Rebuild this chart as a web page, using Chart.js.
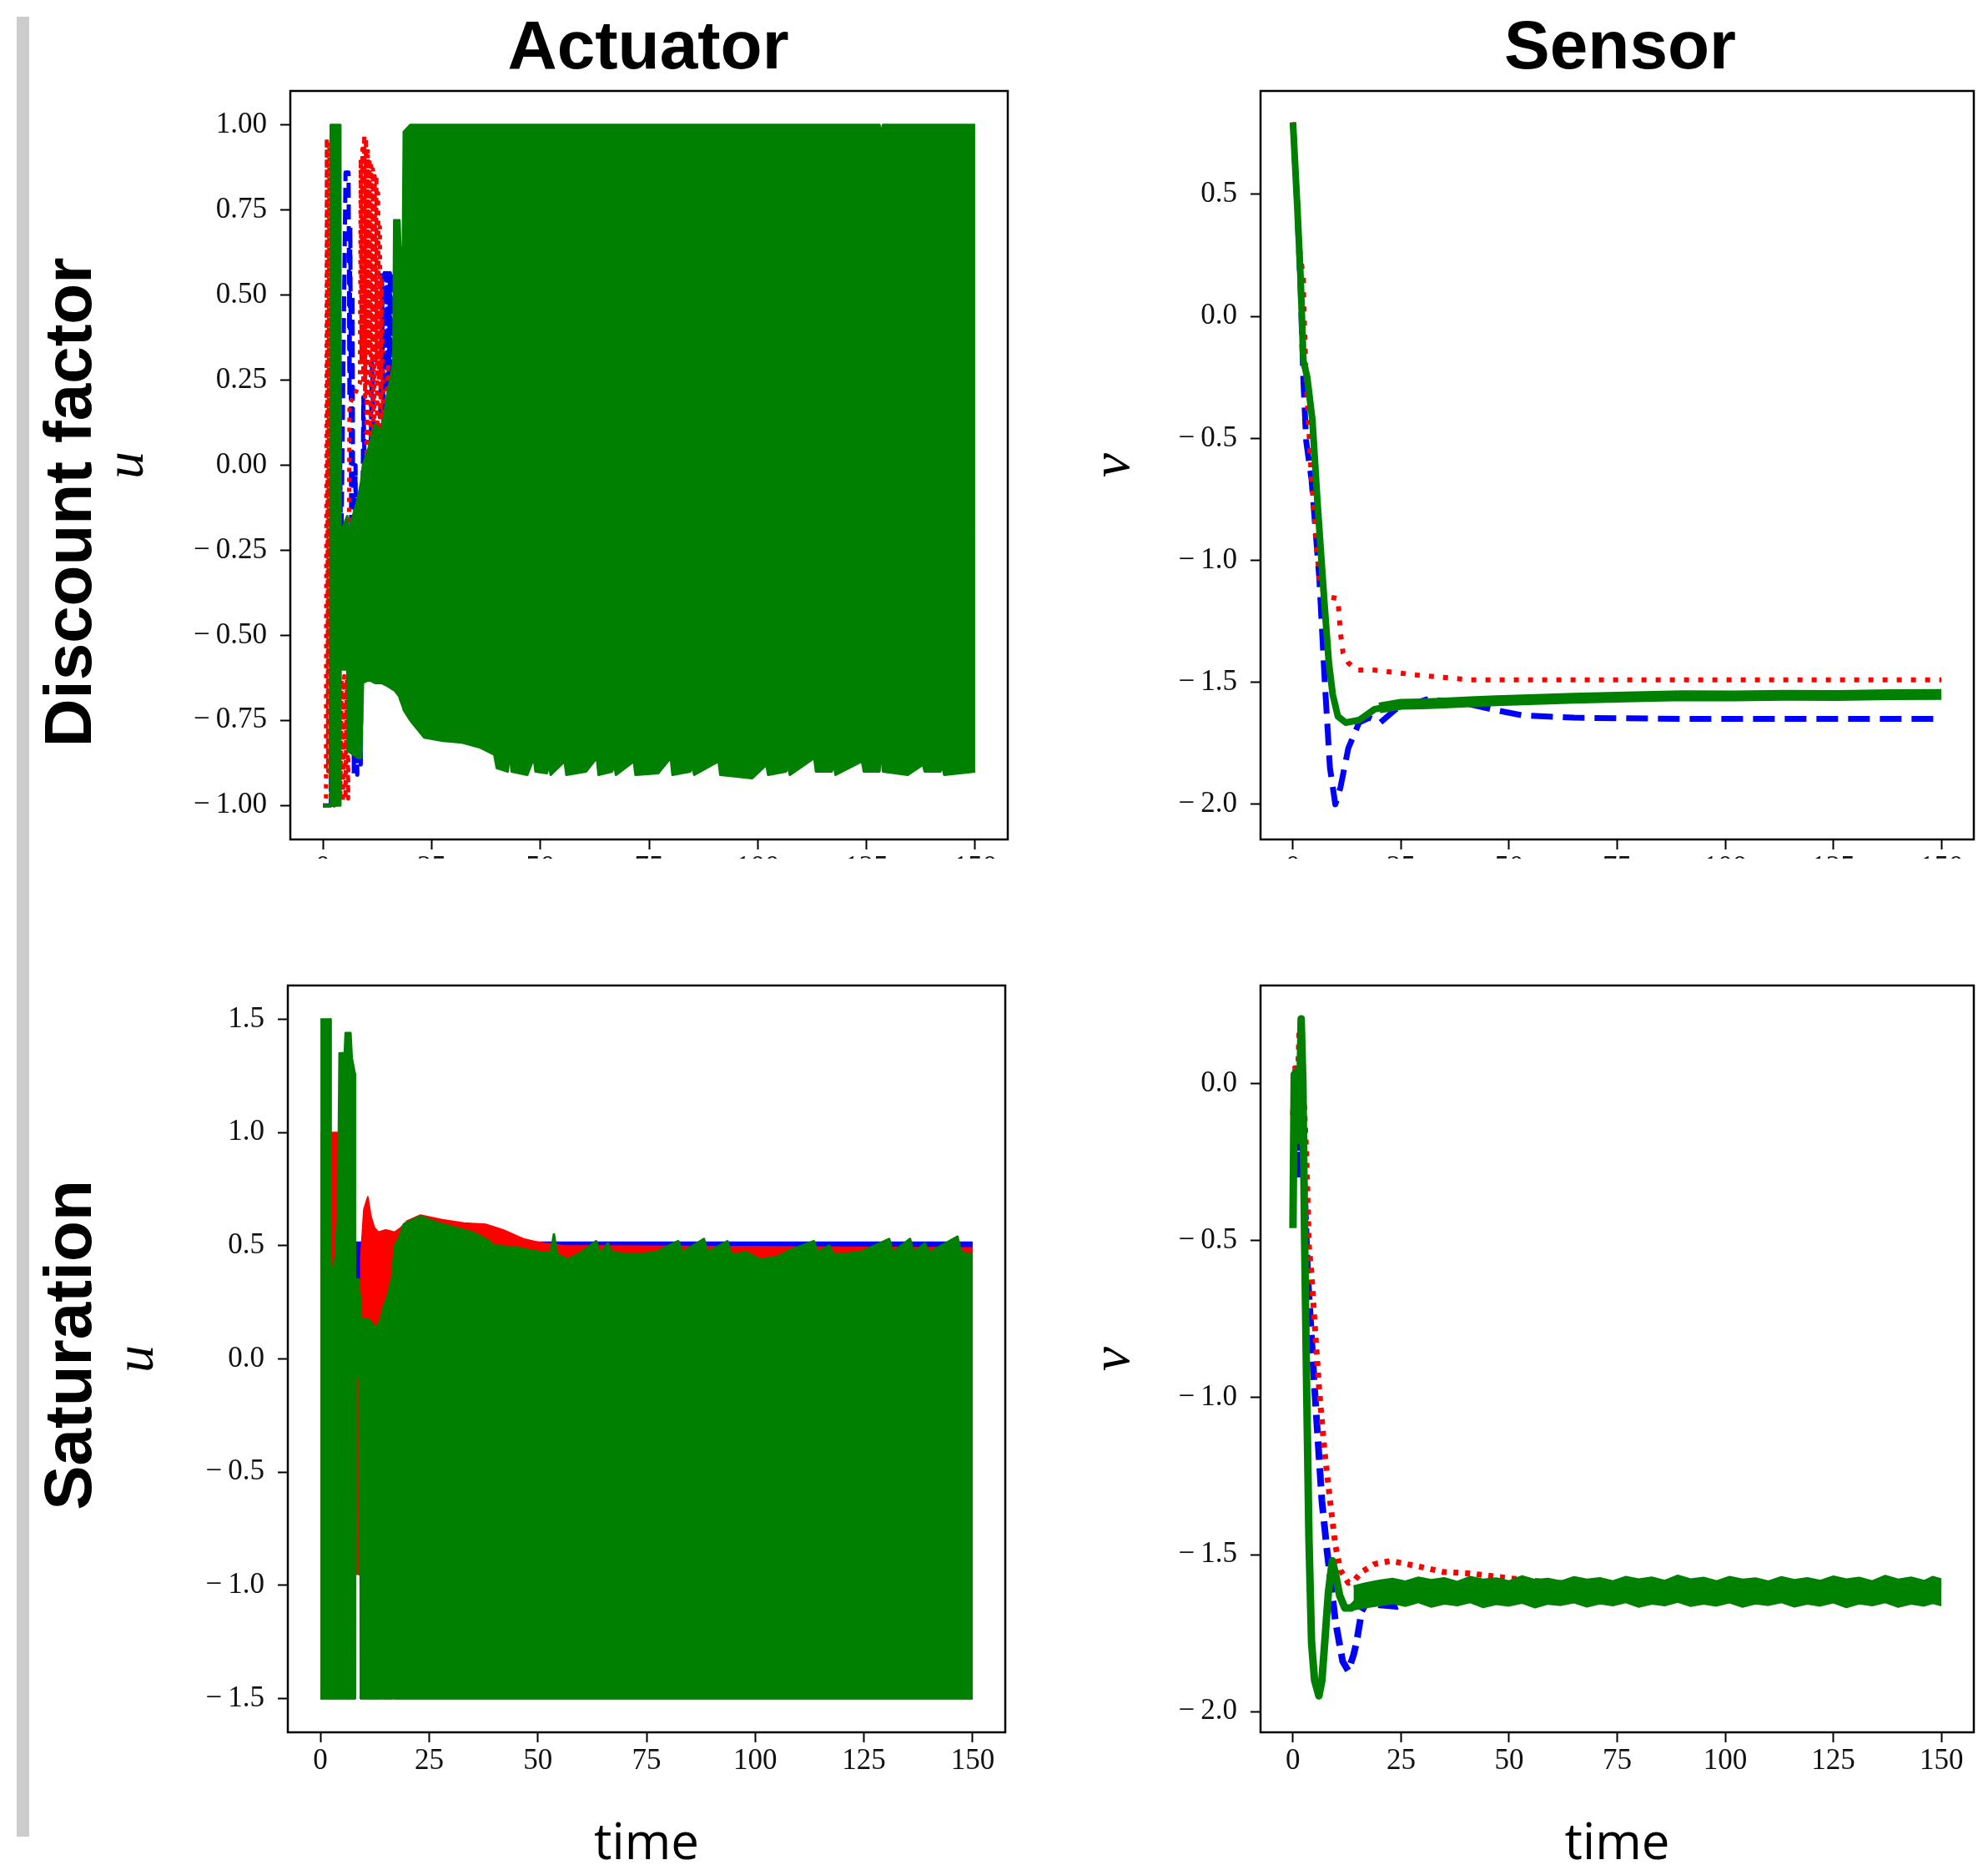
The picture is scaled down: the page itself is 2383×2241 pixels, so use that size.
<!DOCTYPE html>
<html>
<head>
<meta charset="utf-8">
<script src="https://cdn.jsdelivr.net/npm/chart.js@4.4.1/dist/chart.umd.min.js"></script>
<style>
  body { margin: 0; width: 2383px; height: 2241px; background: #fff; position: relative; overflow: hidden; }
  .barra { position: absolute; left: 20px; top: 20px; width: 15px; height: 2181px; background: #cccccc; }
  .col { position: absolute; top: 4px; transform: translateX(-50%); font: bold 82px "Liberation Sans", Arial, sans-serif; line-height: 100px; white-space: nowrap; color: #000; }
  .fila { position: absolute; font: bold 80px "Liberation Sans", Arial, sans-serif; line-height: 80px; white-space: nowrap; color: #000; transform: translate(-50%, -50%) rotate(-90deg); }
  .recorte { position: absolute; overflow: hidden; }
  canvas { display: block; }
</style>
</head>
<body>
<div class="barra"></div>
<div class="col" style="left:777px">Actuator</div>
<div class="col" style="left:1942px">Sensor</div>
<div class="fila" style="left:82px; top:602px">Discount factor</div>
<div class="fila" style="left:82px; top:1612px">Saturation</div>

<div class="recorte" style="left:114px; top:69px; width:1109px; height:960px"><canvas id="graficaTL" width="1109" height="1102"></canvas></div>
<div class="recorte" style="left:1296px; top:69px; width:1085px; height:960px"><canvas id="graficaTR" width="1085" height="1102"></canvas></div>
<canvas id="graficaBL" width="1094" height="1100" style="position:absolute; left:126px; top:1141px"></canvas>
<canvas id="graficaBR" width="1085" height="1100" style="position:absolute; left:1296px; top:1141px"></canvas>

<script>
// ticks de los ejes
const ticksTiempo = [0, 25, 50, 75, 100, 125, 150];
const ticksUDescuento = [-1, -0.75, -0.5, -0.25, 0, 0.25, 0.5, 0.75, 1];
const ticksVDescuento = [-2, -1.5, -1, -0.5, 0, 0.5];
const ticksUSaturacion = [-1.5, -1, -0.5, 0, 0.5, 1, 1.5];
const ticksVSaturacion = [-2, -1.5, -1, -0.5, 0];

// ---- Discount factor / Actuator ----
// verde: banda [tiempo, arriba, abajo]
const actDescVerde = [
  [0, -1.0, -1.0], [1.7, -1.0, -1.0], [1.8, 1.0, -1.0], [4.0, 1.0, -1.0],
  [4.05, -0.2, -0.6], [5.6, -0.15, -0.6], [5.8, -0.2, -0.84], [8.0, -0.1, -0.86],
  [8.8, -0.05, -0.86], [9.2, 0.0, -0.64], [10.5, 0.05, -0.63], [12.0, 0.12, -0.64],
  [13.5, 0.1, -0.64], [15.0, 0.22, -0.65], [16.2, 0.3, -0.66], [16.4, 0.72, -0.66],
  [17.6, 0.72, -0.68], [17.8, 0.64, -0.69], [18.4, 0.64, -0.71], [18.6, 0.98, -0.72],
  [20.1, 1.0, -0.75], [23.3, 1.0, -0.8], [27.6, 1.0, -0.81], [32.0, 1.0, -0.815],
  [36.2, 1.0, -0.83], [39.4, 1.0, -0.85], [40.0, 1.0, -0.89], [42.5, 1.0, -0.9],
  [43.0, 1.0, -0.84], [43.4, 1.0, -0.9], [47.0, 1.0, -0.91], [48.5, 1.0, -0.86],
  [48.9, 1.0, -0.9], [51.5, 1.0, -0.905], [52.0, 1.0, -0.88], [52.4, 1.0, -0.91],
  [55.6, 1.0, -0.87], [56.0, 1.0, -0.91], [60.5, 1.0, -0.9], [63.0, 1.0, -0.86],
  [63.4, 1.0, -0.91], [66.5, 1.0, -0.9], [67.0, 1.0, -0.88], [67.4, 1.0, -0.91],
  [71.5, 1.0, -0.87], [71.9, 1.0, -0.91], [77.1, 1.0, -0.905], [80.0, 1.0, -0.86],
  [80.4, 1.0, -0.91], [84.5, 1.0, -0.9], [85.0, 1.0, -0.885], [85.4, 1.0, -0.91],
  [91.0, 1.0, -0.87], [91.4, 1.0, -0.91], [98.7, 1.0, -0.92], [102.0, 1.0, -0.88],
  [102.4, 1.0, -0.91], [106.5, 1.0, -0.9], [107.0, 1.0, -0.885], [107.4, 1.0, -0.91],
  [113.0, 1.0, -0.86], [113.4, 1.0, -0.9], [117.0, 1.0, -0.9], [117.5, 1.0, -0.88],
  [117.9, 1.0, -0.91], [124.0, 1.0, -0.87], [124.4, 1.0, -0.9], [128.0, 1.0, -0.9],
  [128.3, 0.97, -0.82], [128.8, 1.0, -0.9], [134.5, 1.0, -0.91], [138.0, 1.0, -0.88],
  [138.4, 1.0, -0.9], [142.0, 1.0, -0.9], [142.5, 1.0, -0.885], [142.9, 1.0, -0.91],
  [150.0, 1.0, -0.9]
];
const actDescRojo = [
  [0, -1.0], [0.7, -1.0], [0.9, 0.96], [1.2, -0.9], [1.5, 0.95], [1.8, -0.99],
  [2.6, -1.0], [3.4, -0.99], [3.7, -0.62], [4.0, -0.98], [4.3, -0.63], [4.6, -0.99],
  [4.9, -0.62], [5.2, -0.98], [5.5, -0.63], [5.8, -0.98], [6.1, 0.18], [7.0, 0.2],
  [8.5, 0.24], [8.7, 0.9], [8.9, 0.3], [9.1, 0.93], [9.3, 0.25], [9.5, 0.97],
  [9.7, 0.2], [9.9, 0.96], [10.1, -0.58], [10.3, 0.93], [10.5, 0.35], [10.7, 0.9],
  [10.9, -0.6], [11.1, 0.88], [11.3, 0.3], [11.5, 0.87], [11.7, -0.45], [11.9, 0.85],
  [12.1, 0.3], [12.3, 0.85], [12.5, -0.2], [12.7, 0.8], [12.9, 0.25], [13.1, 0.7],
  [13.3, 0.1], [13.5, 0.55], [14.0, 0.0], [15.0, 0.3], [17.0, -0.3], [20.0, 0.2]
];
const actDescAzul = [
  [0, -1.0], [1.8, -1.0], [2.4, 0.6], [3.0, -0.7], [3.6, 0.5], [4.2, -0.3],
  [4.8, 0.4], [5.2, 0.86], [5.9, 0.86], [6.1, 0.2], [6.3, 0.7], [6.5, -0.2],
  [6.8, 0.5], [7.1, -0.91], [7.5, 0.0], [7.9, -0.91], [8.3, -0.3], [8.7, -0.88],
  [9.3, 0.2], [10.3, -0.5], [11.3, 0.3], [12.3, -0.4], [13.4, 0.3], [13.6, 0.565],
  [13.9, 0.1], [14.2, 0.565], [14.5, 0.05], [14.8, 0.565], [15.1, 0.1], [15.4, 0.565],
  [15.7, 0.0], [16.0, 0.565], [16.2, 0.565], [16.3, -0.3], [17.0, 0.5], [18.0, -0.6],
  [19.0, 0.8]
];

// ---- Discount factor / Sensor ----
const senDescVerde = [
  [0, 0.795], [1.0, 0.45], [1.8, 0.144], [2.4, -0.18], [3.3, -0.25], [4.5, -0.425],
  [5.7, -0.77], [7.3, -1.18], [8.3, -1.42], [9.2, -1.55], [10.4, -1.64], [12.2, -1.665],
  [15.3, -1.655], [18.9, -1.61], [22.0, -1.6]
];
const senDescVerdeFin = [
  [20.0, -1.605], [25.0, -1.59], [30.0, -1.588], [35.0, -1.585], [41.0, -1.58],
  [47.0, -1.575], [56.0, -1.57], [65.0, -1.565], [77.0, -1.56], [90.0, -1.555],
  [102.0, -1.556], [114.0, -1.553], [126.0, -1.554], [138.0, -1.551], [150.0, -1.55]
];
const senDescAzul = [
  [0, 0.795], [1.0, 0.45], [1.8, 0.1], [2.4, -0.26], [3.05, -0.51], [4.3, -0.67],
  [6.1, -1.075], [7.3, -1.48], [8.55, -1.85], [9.8, -2.0], [11.0, -1.93], [12.8, -1.77],
  [15.3, -1.665], [17.7, -1.645], [20.2, -1.665], [23.8, -1.61], [31.0, -1.57], [38.5, -1.58],
  [45.8, -1.61], [53.0, -1.635], [65.0, -1.645], [90.0, -1.65], [150.0, -1.65]
];
const senDescRojo = [
  [0, 0.795], [1.0, 0.45], [1.6, 0.27], [2.4, 0.155], [2.6, 0.0], [3.05, -0.26],
  [4.3, -0.67], [5.5, -0.95], [6.1, -1.075], [7.3, -1.146], [8.5, -1.15], [10.4, -1.157],
  [11.0, -1.3], [11.6, -1.38], [12.8, -1.42], [14.7, -1.45], [18.9, -1.45], [28.7, -1.47],
  [41.0, -1.49], [65.0, -1.49], [150.0, -1.49]
];

// ---- Saturation / Actuator ----
const actSatVerde = [
  [0.0, 1.5, -1.5], [1.8, 1.5, -1.5], [1.9, 1.5, -1.43], [2.0, 1.5, -1.5], [2.3, 1.5, -1.5],
  [2.35, 0.35, -1.5], [3.5, 0.45, -1.5], [4.1, 0.7, -1.5], [4.4, 1.35, -1.5], [5.6, 1.35, -1.5],
  [5.8, 1.44, -1.5], [6.9, 1.44, -1.5], [7.2, 1.33, -1.5], [7.9, 1.26, -1.5], [7.95, 0.35, -0.08],
  [8.85, 0.35, -0.08], [8.9, 0.3, -0.95], [9.25, 0.25, -0.95], [9.3, 0.18, -1.5], [11.5, 0.17, -1.5],
  [11.7, 0.16, -1.41], [11.9, 0.15, -1.5], [13.0, 0.14, -1.5], [14.0, 0.18, -1.5], [14.2, 0.2, -1.39],
  [14.4, 0.22, -1.5], [15.5, 0.28, -1.5], [16.5, 0.36, -1.5], [16.7, 0.4, -1.47], [17.1, 0.5, -1.5],
  [18.0, 0.53, -1.5], [19.2, 0.595, -1.5], [23.0, 0.63, -1.5], [27.0, 0.6, -1.5], [30.0, 0.585, -1.5],
  [34.8, 0.56, -1.5], [38.0, 0.53, -1.5], [40.0, 0.5, -1.5], [45.6, 0.49, -1.5], [48.0, 0.48, -1.5],
  [51.0, 0.47, -1.5], [53.0, 0.47, -1.5], [53.7, 0.55, -1.5], [54.4, 0.46, -1.5], [57.0, 0.44, -1.5],
  [60.0, 0.47, -1.5], [63.4, 0.52, -1.5], [64.2, 0.46, -1.5], [66.1, 0.51, -1.5], [67.0, 0.47, -1.5],
  [72.0, 0.46, -1.5], [77.0, 0.47, -1.5], [82.3, 0.52, -1.5], [83.2, 0.47, -1.5], [88.2, 0.53, -1.5],
  [89.0, 0.47, -1.5], [93.6, 0.52, -1.5], [94.4, 0.46, -1.5], [98.0, 0.47, -1.5], [101.0, 0.44, -1.5],
  [105.0, 0.45, -1.5], [108.0, 0.48, -1.5], [113.5, 0.52, -1.5], [114.3, 0.47, -1.5], [117.0, 0.5, -1.5],
  [118.0, 0.46, -1.5], [124.0, 0.47, -1.5], [130.8, 0.53, -1.5], [131.6, 0.47, -1.5], [135.6, 0.53, -1.5],
  [136.4, 0.47, -1.5], [139.0, 0.51, -1.5], [140.0, 0.47, -1.5], [146.5, 0.54, -1.5], [147.3, 0.47, -1.5],
  [150.0, 0.46, -1.5]
];
const actSatRojo = [
  [0.0, 1.0, -1.5], [4.1, 1.0, -1.5], [4.2, 0.3, -1.5], [7.9, 0.3, -1.5], [7.95, 0.3, -0.95],
  [9.25, 0.3, -0.95], [9.3, 0.45, -1.5], [10.0, 0.66, -1.5], [10.9, 0.716, -1.5], [11.6, 0.63, -1.5],
  [12.4, 0.58, -1.5], [13.3, 0.56, -1.5], [15.0, 0.57, -1.5], [17.1, 0.56, -1.5], [18.5, 0.58, -1.5],
  [20.0, 0.61, -1.5], [23.0, 0.635, -1.5], [28.0, 0.615, -1.5], [33.0, 0.6, -1.5], [38.0, 0.595, -1.5],
  [42.0, 0.57, -1.5], [46.7, 0.53, -1.5], [50.0, 0.515, -1.5], [56.0, 0.5, -1.5], [150.0, 0.49, -1.5]
];
const actSatAzul = [
  [0.0, 0.515, -1.5], [7.9, 0.515, -1.5], [7.95, 0.515, -0.95], [9.25, 0.515, -0.95],
  [9.3, 0.515, -1.5], [150.0, 0.515, -1.5]
];

// ---- Saturation / Sensor ----
const senSatVerde = [
  [0, -0.46], [0.3, 0.03], [0.7, -0.1], [1.0, 0.04], [1.4, -0.18], [1.9, 0.207],
  [2.3, 0.0], [2.7, -0.5], [3.2, -1.0], [3.7, -1.45], [4.3, -1.78], [5.0, -1.9],
  [6.0, -1.95], [6.7, -1.9], [7.4, -1.77], [8.2, -1.62], [9.1, -1.52], [9.8, -1.56],
  [10.8, -1.63], [12.0, -1.67], [13.5, -1.67], [15.0, -1.65], [16.5, -1.62]
];
const senSatVerdeBanda = [
  [14, -1.6, -1.675], [17, -1.59, -1.668], [20, -1.582, -1.662], [23, -1.576, -1.655],
  [26, -1.585, -1.664], [29, -1.572, -1.652], [32, -1.58, -1.667], [35, -1.574, -1.657],
  [38, -1.586, -1.662], [41, -1.57, -1.652], [44, -1.579, -1.668], [47, -1.575, -1.658],
  [50, -1.584, -1.663], [53, -1.568, -1.654], [56, -1.58, -1.669], [59, -1.576, -1.657],
  [62, -1.585, -1.661], [65, -1.571, -1.653], [68, -1.579, -1.666], [71, -1.574, -1.656],
  [74, -1.584, -1.662], [77, -1.57, -1.652], [80, -1.578, -1.667], [83, -1.572, -1.657],
  [86, -1.583, -1.662], [89, -1.566, -1.651], [92, -1.578, -1.664], [95, -1.573, -1.657],
  [98, -1.584, -1.663], [101, -1.57, -1.653], [104, -1.579, -1.667], [107, -1.575, -1.656],
  [110, -1.585, -1.661], [113, -1.571, -1.652], [116, -1.58, -1.666], [119, -1.574, -1.657],
  [122, -1.583, -1.663], [125, -1.569, -1.653], [128, -1.578, -1.668], [131, -1.573, -1.656],
  [134, -1.584, -1.662], [137, -1.567, -1.652], [140, -1.579, -1.667], [143, -1.572, -1.657],
  [146, -1.583, -1.663], [148, -1.57, -1.655], [150, -1.578, -1.662]
];
const senSatAzul = [
  [0, -0.3], [0.6, -0.1], [1.2, -0.3], [1.8, 0.1], [2.4, -0.25], [3.4, -0.61],
  [5.0, -0.97], [6.7, -1.33], [7.9, -1.49], [9.8, -1.71], [11.5, -1.84], [12.8, -1.87],
  [14.0, -1.82], [14.7, -1.78], [15.9, -1.68], [17.5, -1.64], [20.0, -1.66], [24.0, -1.665],
  [28.0, -1.645], [35.0, -1.63], [50.0, -1.625], [80.0, -1.615], [110.0, -1.61], [140.0, -1.595],
  [150.0, -1.6]
];
const senSatRojo = [
  [0, -0.1], [0.5, 0.05], [1.0, -0.05], [1.5, 0.17], [2.0, 0.1], [2.5, -0.05],
  [3.05, -0.215], [3.7, -0.52], [4.3, -0.61], [4.9, -0.74], [6.1, -0.98], [7.3, -1.17],
  [8.6, -1.33], [9.8, -1.47], [11.0, -1.55], [12.8, -1.59], [14.0, -1.585], [15.9, -1.555],
  [18.9, -1.53], [22.6, -1.52], [26.3, -1.53], [29.9, -1.54], [34.8, -1.555], [40.9, -1.56],
  [47.0, -1.57], [53.0, -1.58], [70.0, -1.6], [150.0, -1.6]
];

const AZUL = '#0000ff';
const ROJO = '#ff0000';
const VERDE = '#008000';

function puntos(filas, k) {
  return filas.map((f) => ({ x: f[0], y: f[k] }));
}

function linea(filas, color, ancho, guion, orden) {
  return {
    data: puntos(filas, 1),
    borderColor: color,
    borderWidth: ancho,
    borderDash: guion,
    borderCapStyle: 'butt',
    borderJoinStyle: 'round',
    pointRadius: 0,
    fill: false,
    order: orden
  };
}

// banda rellena: borde de abajo y luego el de arriba relleno hasta el anterior
function banda(filas, color, ancho, orden) {
  return [
    { data: puntos(filas, 2), borderColor: color, borderWidth: ancho, borderJoinStyle: 'round', pointRadius: 0, fill: false, order: orden },
    { data: puntos(filas, 1), borderColor: color, borderWidth: ancho, borderJoinStyle: 'round', pointRadius: 0, fill: '-1', backgroundColor: color, order: orden }
  ];
}

// marco negro alrededor del area
const marco = {
  id: 'marco',
  afterDraw(chart) {
    const { ctx, chartArea: a } = chart;
    ctx.save();
    ctx.strokeStyle = '#000';
    ctx.lineWidth = 2.5;
    ctx.strokeRect(a.left, a.top, a.right - a.left, a.bottom - a.top);
    ctx.restore();
  }
};

function etiqueta(v, dec) {
  return (v < 0 ? '\u2212\u2009' : '') + Math.abs(v).toFixed(dec);
}

function crearGrafica(id, datasets, yMin, yMax, yTicks, dec, yTitulo, anchoY, xTitulo) {
  new Chart(document.getElementById(id), {
    type: 'line',
    data: { datasets: datasets },
    options: {
      responsive: false,
      animation: false,
      layout: { padding: { top: 40, right: 15, bottom: 0, left: 0 } },
      plugins: { legend: { display: false }, tooltip: { enabled: false } },
      scales: {
        x: {
          type: 'linear', min: -7.5, max: 157.5, bounds: 'data',
          afterBuildTicks: (s) => { s.ticks = ticksTiempo.map((v) => ({ value: v })); },
          afterFit: (s) => { s.height = 165; },
          ticks: { font: { family: "'Liberation Serif', serif", size: 35 }, color: '#111', padding: 2, maxRotation: 0, autoSkip: false },
          grid: { display: true, drawOnChartArea: false, drawTicks: true, tickLength: 12, tickWidth: 2, tickColor: '#000' },
          border: { display: false },
          title: { display: !!xTitulo, text: xTitulo || '', color: '#000', padding: 0,
                   font: { family: "'Open Sans', sans-serif", size: 60, lineHeight: 1 } }
        },
        y: {
          type: 'linear', min: yMin, max: yMax, bounds: 'data',
          afterBuildTicks: (s) => { s.ticks = yTicks.map((v) => ({ value: v })); },
          afterFit: (s) => { s.width = anchoY; },
          ticks: { font: { family: "'Liberation Serif', serif", size: 35 }, color: '#111', padding: 16, autoSkip: false,
                   callback: (v) => etiqueta(v, dec) },
          grid: { display: true, drawOnChartArea: false, drawTicks: true, tickLength: 12, tickWidth: 2, tickColor: '#000' },
          border: { display: false },
          title: { display: true, text: yTitulo, color: '#000', padding: 0,
                   font: { family: "'Liberation Serif', serif", style: 'italic', size: 66, lineHeight: 1.2 } }
        }
      }
    },
    plugins: [marco]
  });
}

// arriba izquierda
crearGrafica('graficaTL', [
  ...banda(actDescVerde, VERDE, 3, 0),
  linea(actDescRojo, ROJO, 5, [5, 7], 1),
  linea(actDescAzul, AZUL, 5, [18, 8], 2)
], -1.1, 1.1, ticksUDescuento, 2, 'u', 234, null);

// arriba derecha
crearGrafica('graficaTR', [
  linea(senDescVerde, VERDE, 8, [], 0),
  linea(senDescVerdeFin, VERDE, 13, [], 0),
  linea(senDescRojo, ROJO, 6, [6, 11], 1),
  linea(senDescAzul, AZUL, 7, [26, 12], 2)
], -2.144, 0.924, ticksVDescuento, 1, 'v', 215, null);

// abajo izquierda
crearGrafica('graficaBL', [
  ...banda(actSatVerde, VERDE, 3, 0),
  ...banda(actSatRojo, ROJO, 2, 1),
  ...banda(actSatAzul, AZUL, 2, 2)
], -1.65, 1.65, ticksUSaturacion, 1, 'u', 219, 'time');

// abajo derecha
crearGrafica('graficaBR', [
  linea(senSatVerde, VERDE, 9, [], 0),
  ...banda(senSatVerdeBanda, VERDE, 2, 0),
  linea(senSatRojo, ROJO, 7, [6, 8], 1),
  linea(senSatAzul, AZUL, 8, [22, 10], 2)
], -2.066, 0.313, ticksVSaturacion, 1, 'v', 215, 'time');
</script>
</body>
</html>
